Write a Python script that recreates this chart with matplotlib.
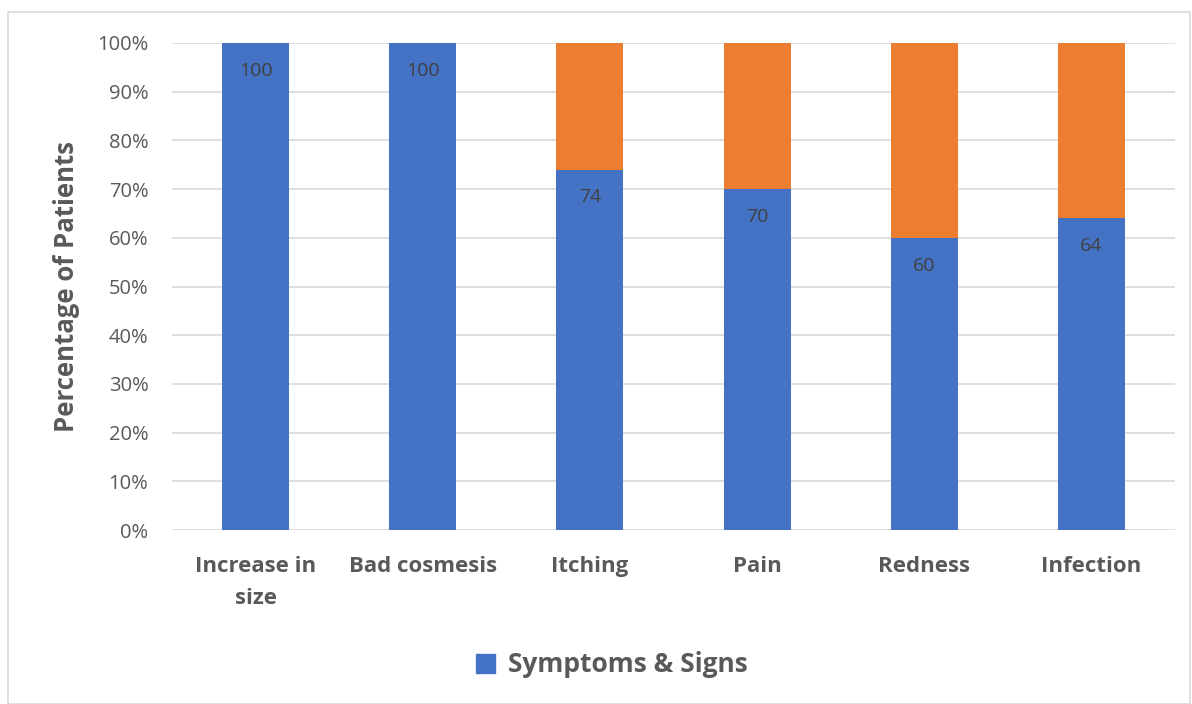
import matplotlib
matplotlib.use("Agg")
import matplotlib.pyplot as plt
from matplotlib.patches import Rectangle, Patch

plt.rcParams['font.family'] = ['Open Sans', 'DejaVu Sans']

categories = ["Increase in\nsize", "Bad cosmesis", "Itching", "Pain", "Redness", "Infection"]
symptoms = [100, 100, 74, 70, 60, 64]
remainder = [100 - v for v in symptoms]

blue = "#4472C4"
orange = "#ED7D31"
text_gray = "#595959"

fig = plt.figure(figsize=(11.92, 7.04), dpi=100)
ax = fig.add_axes([172 / 1192, 1 - 530 / 704, 1003 / 1192, 487 / 704])

x = range(len(categories))
ax.bar(x, symptoms, width=0.4, color=blue, zorder=2)
ax.bar(x, remainder, width=0.4, bottom=symptoms, color=orange, zorder=2)

# value labels just inside the top of the blue segment
for i, v in enumerate(symptoms):
    ax.annotate(str(v), (i, v), xytext=(0, -20), textcoords="offset points",
                ha="center", va="center", fontsize=14, color="#404040", zorder=3)

ax.set_xlim(-0.5, len(categories) - 0.5)
ax.set_ylim(0, 100)
ax.set_yticks(range(0, 101, 10))
ax.set_yticklabels([f"{t}%" for t in range(0, 101, 10)])
ax.set_xticks(list(x))
ax.set_xticklabels(categories, fontsize=16, fontweight="bold", color=text_gray,
                   linespacing=1.65)
ax.tick_params(axis="y", length=0, pad=17, labelsize=14.5, labelcolor=text_gray)
ax.tick_params(axis="x", length=0, pad=19)
ax.yaxis.grid(True, color="#D9D9D9", linewidth=1.2, zorder=0)
for s in ax.spines.values():
    s.set_visible(False)
ax.set_ylabel("Percentage of Patients", fontsize=18.5, fontweight="bold",
              color=text_gray, labelpad=12)

fig.legend(handles=[Patch(color=blue, label="Symptoms & Signs")],
           loc="center", bbox_to_anchor=(612 / 1192, 1 - 665 / 704),
           frameon=False, handlelength=0.7, handleheight=0.7,
           handletextpad=0.5, prop={"weight": "bold", "size": 19})
for t in fig.legends[0].get_texts():
    t.set_color(text_gray)

fig.patches.append(Rectangle((8 / 1192, 0.5 / 704), 1182 / 1192, 691.5 / 704,
                             transform=fig.transFigure, fill=False,
                             edgecolor="#D9D9D9", linewidth=1.2))

fig.savefig("out.png", dpi=100, facecolor="white")
